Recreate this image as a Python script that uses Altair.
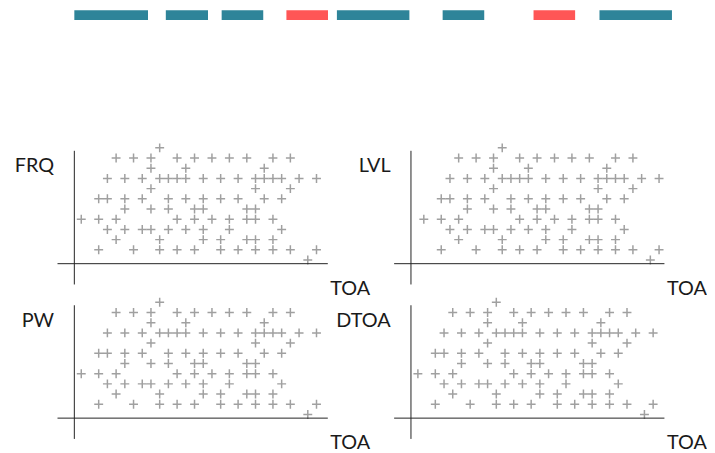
import altair as alt
import pandas as pd

# ---- timeline (top strip): segment start / end in TOA units, and kind
seg_start = [0, 15.4, 24.8, 35.7, 44.2, 62.0, 77.3, 88.4]
seg_end = [12.4, 22.5, 31.8, 42.7, 56.4, 69.0, 84.3, 100.6]
seg_kind = ["normal", "normal", "normal", "anomaly", "normal", "normal", "anomaly", "normal"]

# ---- scatter values: for each level, the TOA bins that hold a pulse
row_level = [11, 10, 9, 8, 7, 6, 5, 4, 3, 2, 1, 0]
row_toa = [
    [9],
    [4, 6, 8, 11, 13, 15, 17, 19, 22, 24],
    [8, 12, 21],
    [3, 5, 7, 9, 10, 11, 12, 14, 16, 18, 20, 21, 22, 23, 25, 27],
    [8, 20, 24],
    [2, 3, 5, 7, 10, 12, 14, 16, 18, 21, 23],
    [5, 8, 10, 13, 14, 19, 20],
    [0, 2, 4, 11, 13, 15, 17, 19, 20, 22],
    [3, 5, 7, 8, 10, 12, 14, 17, 23],
    [4, 9, 14, 16, 19, 20, 22],
    [2, 6, 9, 11, 13, 16, 18, 20, 22, 24, 27],
    [26],
]

panel_labels = ["FRQ", "LVL", "PW", "DTOA"]
# TOA at which each panel's axes cross (the LVL panel starts a little earlier)
panel_x_origin = [-0.795, -1.475, -0.795, -0.795]
y_origin = -0.359
x_label = "TOA"

points = pd.DataFrame(
    [(t, lvl) for lvl, ts in zip(row_level, row_toa) for t in ts],
    columns=["toa", "val"],
)
segments = pd.DataFrame({"start": seg_start, "end": seg_end, "kind": seg_kind})

FONT = "Lato"
PLUS = "M-1,0H1M0,-1V1"
TEAL = "#2e8499"
RED = "#ff5656"

timeline = alt.Chart(segments).mark_rect().encode(
    x=alt.X("start:Q", scale=alt.Scale(domain=[-2.833, 99.833], nice=False, zero=False), axis=None),
    x2="end:Q",
    color=alt.Color("kind:N", scale=alt.Scale(domain=["normal", "anomaly"], range=[TEAL, RED]), legend=None),
).properties(width=616, height=10)


def panel(label, x0):
    # axis crossing sits 17px from the panel's left edge; 8.8px per TOA step
    lo = x0 - 17 / 8.8
    xs = alt.Scale(domain=[lo, lo + 273 / 8.8], nice=False, zero=False)
    ys = alt.Scale(domain=[-2.398, 10.709], nice=False, zero=False)
    origin = pd.DataFrame({"x0": [x0], "y0": [y_origin]})
    title_style = dict(
        domain=False, ticks=False, labels=False, grid=False,
        titleFont=FONT, titleFontSize=20, titleFontWeight="normal",
        titleColor="#1a1a1a", titleAngle=0, titleBaseline="alphabetic",
    )
    pts = alt.Chart(points).mark_point(
        shape=PLUS, size=81, filled=False, color="#a0a0a0", strokeWidth=1.5, opacity=1
    ).encode(
        x=alt.X("toa:Q", scale=xs, axis=alt.Axis(title=x_label, titleAlign="left", titleX=275, titleY=10, **title_style)),
        y=alt.Y("val:Q", scale=ys, axis=alt.Axis(title=label, titleAlign="right", titleX=-4, titleY=21, **title_style)),
    )
    vrule = alt.Chart(origin).mark_rule(color="#222222", strokeWidth=1).encode(x="x0:Q")
    hrule = alt.Chart(origin).mark_rule(color="#222222", strokeWidth=1).encode(y="y0:Q")
    return alt.layer(pts, vrule, hrule).properties(width=273, height=135)


grid = alt.concat(
    *[panel(lbl, x0) for lbl, x0 in zip(panel_labels, panel_x_origin)],
    columns=2,
    spacing={"row": 21, "column": 67},
    bounds="flush",
)

chart = alt.vconcat(timeline, grid, spacing=121).properties(
    padding={"left": 6, "top": 0, "right": 0, "bottom": 0}
).configure_view(stroke=None)

chart.save("out.html", embed_options={"renderer": "svg", "actions": False})
